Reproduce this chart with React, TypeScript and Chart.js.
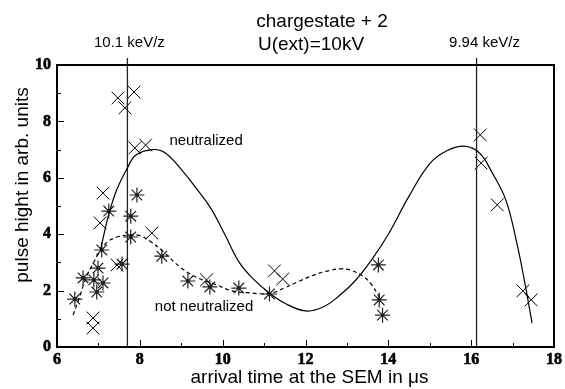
import React, { useEffect, useRef } from "react";
import { Chart, registerables } from "chart.js";

Chart.register(...registerables);

// neutralized (×) measurements
const neutralX = [6.87, 6.87, 7.04, 7.11, 7.45, 7.47, 7.64, 7.86, 7.88, 8.14, 8.29, 9.61, 11.25, 11.45, 16.22, 16.24, 16.63, 17.25, 17.45];
const neutralY = [0.67, 1.03, 4.40, 5.46, 2.91, 8.83, 8.48, 9.04, 7.06, 7.16, 4.04, 2.38, 2.70, 2.41, 7.52, 6.52, 5.04, 1.99, 1.67];

// not neutralized (asterisk) measurements
const notNeutralX = [6.43, 6.63, 6.89, 6.96, 6.99, 7.08, 7.11, 7.25, 7.57, 7.78, 7.78, 7.93, 8.53, 9.16, 9.69, 10.39, 11.13, 13.76, 13.78, 13.86];
const notNeutralY = [1.70, 2.45, 2.38, 1.95, 2.80, 3.44, 2.27, 4.82, 2.94, 3.90, 4.64, 5.39, 3.22, 2.34, 2.13, 2.09, 1.88, 2.91, 1.67, 1.13];

// fit curve through neutralized (solid)
const fitNeutralX = [7.05, 7.25, 7.45, 7.7, 7.9, 8.3, 8.6, 9.0, 9.35, 9.7, 10.05, 10.4, 10.75, 11.13, 11.5, 12.0, 12.4, 12.8, 13.2, 13.6, 14.0, 14.5, 15.0, 15.4, 15.83, 16.2, 16.5, 16.84, 17.1, 17.28, 17.47];
const fitNeutralY = [3.45, 4.7, 5.6, 6.35, 6.8, 7.0, 6.9, 6.3, 5.65, 4.95, 4.0, 3.0, 2.4, 1.91, 1.55, 1.28, 1.4, 1.8, 2.35, 3.1, 4.0, 5.35, 6.5, 6.95, 7.12, 6.88, 6.2, 5.2, 3.7, 2.4, 0.85];

// fit curve through not neutralized (dashed)
const fitNotNeutralX = [6.39, 6.55, 6.7, 6.85, 7.0, 7.2, 7.45, 7.75, 8.0, 8.25, 8.55, 9.0, 9.4, 9.86, 10.2, 10.58, 11.13, 11.5, 11.8, 12.2, 12.6, 12.85, 13.1, 13.4, 13.6, 13.75, 13.8];
const fitNotNeutralY = [1.13, 1.8, 2.45, 2.9, 3.3, 3.7, 3.9, 3.97, 3.95, 3.75, 3.4, 2.8, 2.45, 2.2, 2.0, 1.93, 1.9, 2.1, 2.3, 2.55, 2.72, 2.77, 2.72, 2.5, 2.2, 1.85, 1.67];

// energy markers
const markerX = [7.7, 16.13];
const markerLabels = ["10.1 keV/z", "9.94 keV/z"];
const markerTop = 10.25;

const xMin = 6, xMax = 18, yMin = 0, yMax = 10;
const titleLines = ["chargestate + 2", "U(ext)=10kV"];
const xTitle = "arrival time at the SEM in \u03bcs";
const yTitle = "pulse hight in arb. units";
const curveLabels = ["neutralized", "not neutralized"];
const curveLabelX = [9.6, 9.55];
const curveLabelY = [7.3, 1.42];

const pts = (xs: number[], ys: number[]) => xs.map((x, i) => ({ x, y: ys[i] }));

const SANS = "'Liberation Sans', Arial, sans-serif";
const SERIF = "Liberation Serif";

const decorPlugin = {
  id: "decor",
  afterDatasetsDraw(chart: any) {
    const { ctx, chartArea: a, scales } = chart;
    const xs = scales.x, ys = scales.y;
    ctx.save();
    ctx.strokeStyle = "#000";
    // ticks inside
    ctx.lineWidth = 1;
    ctx.beginPath();
    for (let v = xMin; v <= xMax; v++) {
      const px = Math.round(xs.getPixelForValue(v)) + 0.5;
      const len = v % 2 === 0 ? 7 : 4;
      ctx.moveTo(px, a.bottom);
      ctx.lineTo(px, a.bottom - len);
    }
    for (let v = yMin; v <= yMax; v++) {
      const py = Math.round(ys.getPixelForValue(v)) + 0.5;
      const len = v % 2 === 0 ? 7 : 4;
      ctx.moveTo(a.left, py);
      ctx.lineTo(a.left + len, py);
    }
    ctx.stroke();
    // box
    ctx.lineWidth = 2;
    ctx.strokeRect(a.left, a.top, a.right - a.left, a.bottom - a.top);

    // marker labels
    ctx.fillStyle = "#000";
    ctx.textAlign = "center";
    ctx.textBaseline = "middle";
    ctx.font = `15px ${SANS}`;
    markerLabels.forEach((t, i) => {
      const px = xs.getPixelForValue(markerX[i]);
      ctx.fillText(t, px + (i === 0 ? 2 : 8), a.top - 22);
    });
    // title
    ctx.font = `19px ${SANS}`;
    ctx.fillText(titleLines[0], 322, 22);
    ctx.fillText(titleLines[1], 311, 45);
    // curve labels
    ctx.font = `15px ${SANS}`;
    curveLabels.forEach((t, i) => {
      ctx.fillText(t, xs.getPixelForValue(curveLabelX[i]), ys.getPixelForValue(curveLabelY[i]));
    });
    // axis titles
    ctx.font = `19px ${SANS}`;
    ctx.fillText(xTitle, (a.left + a.right) / 2 + 4, 378);
    ctx.translate(23, 185);
    ctx.rotate(-Math.PI / 2);
    ctx.fillText(yTitle, 0, 0);
    ctx.restore();
  },
};

export default function App() {
  const ref = useRef<HTMLCanvasElement | null>(null);
  useEffect(() => {
    if (!ref.current) return;
    const datasets: any[] = [
      {
        type: "line",
        data: pts(fitNeutralX, fitNeutralY),
        borderColor: "#000",
        borderWidth: 1.2,
        pointRadius: 0,
        tension: 0.4,
        fill: false,
      },
      {
        type: "line",
        data: pts(fitNotNeutralX, fitNotNeutralY),
        borderColor: "#000",
        borderWidth: 1.2,
        borderDash: [4, 3],
        pointRadius: 0,
        tension: 0.4,
        fill: false,
      },
      ...markerX.map((x) => ({
        type: "line",
        data: [{ x, y: yMin }, { x, y: markerTop }],
        borderColor: "#222",
        borderWidth: 1.3,
        pointRadius: 0,
        clip: false,
      })),
      {
        type: "scatter",
        data: pts(neutralX, neutralY),
        pointStyle: "crossRot",
        pointRadius: 9,
        borderColor: "#000",
        borderWidth: 1,
        showLine: false,
      },
      {
        type: "scatter",
        data: pts(notNeutralX, notNeutralY),
        pointStyle: "star",
        pointRadius: 7.5,
        borderColor: "#222",
        borderWidth: 1.2,
        showLine: false,
      },
      {
        type: "scatter",
        data: pts(notNeutralX, notNeutralY),
        pointStyle: "circle",
        pointRadius: 1.8,
        backgroundColor: "#000",
        borderColor: "#000",
        borderWidth: 0,
        showLine: false,
      },
    ];
    const tickOpts = {
      stepSize: 2,
      color: "#000",
      textStrokeColor: "#000",
      textStrokeWidth: 0.6,
      font: { family: SERIF, size: 16, weight: "bold" },
    };
    const chart = new Chart(ref.current, {
      type: "scatter",
      data: { datasets },
      options: {
        animation: false,
        responsive: false,
        events: [],
        layout: { padding: { left: 0, right: 10, top: 65, bottom: 0 } },
        plugins: { legend: { display: false }, tooltip: { enabled: false }, title: { display: false } },
        scales: {
          x: {
            type: "linear",
            min: xMin,
            max: xMax,
            grid: { display: false, drawTicks: false },
            border: { display: false },
            ticks: { ...tickOpts, padding: 3 },
            afterFit: (s: any) => { s.height = 42; },
          },
          y: {
            type: "linear",
            min: yMin,
            max: yMax,
            grid: { display: false, drawTicks: false },
            border: { display: false },
            ticks: { ...tickOpts, padding: 6 },
            afterFit: (s: any) => { s.width = 57; },
          },
        },
      },
      plugins: [decorPlugin],
    } as any);
    return () => chart.destroy();
  }, []);
  return (
    <canvas
      ref={ref}
      width={565}
      height={389}
      style={{ position: "fixed", left: 0, top: 0, width: 565, height: 389, background: "#fff" }}
    />
  );
}
